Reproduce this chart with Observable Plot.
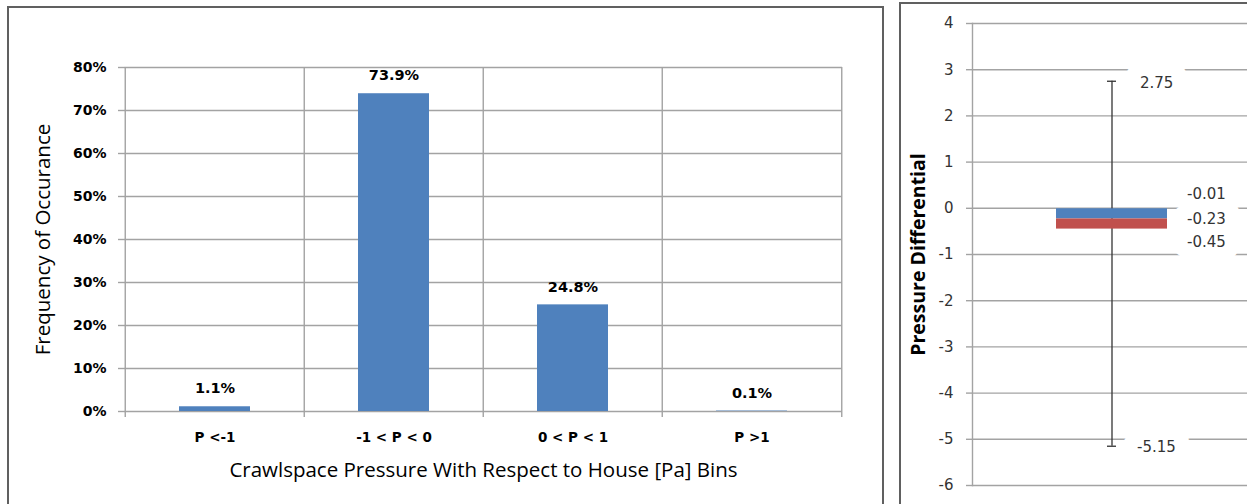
<!DOCTYPE html>
<html><head><meta charset="utf-8">
<script src="https://cdn.jsdelivr.net/npm/d3@7"></script>
<script src="https://cdn.jsdelivr.net/npm/@observablehq/plot@0.6"></script>
<style>
html,body{margin:0;padding:0;background:#fff;overflow:hidden;width:1247px;height:504px;}
#wrap{position:relative;width:1247px;height:504px;overflow:hidden;}
.panel{position:absolute;top:0;}
.panel svg{max-width:none !important;}
.border{position:absolute;border:2px solid #606060;box-sizing:border-box;pointer-events:none;}
</style></head><body>
<div id="wrap">
  <div id="left" class="panel" style="left:0px;width:883px"></div>
  <div id="right" class="panel" style="left:884px;width:420px"></div>
  <div class="border" style="left:7px;top:6px;width:877px;height:530px"></div>
  <div class="border" style="left:899px;top:2px;width:420px;height:530px"></div>
</div>
<script>
// ---- data: left chart ----
const bins = ["P <-1", "-1 < P < 0", "0 < P < 1", "P >1"];
const frequency = [0.011, 0.739, 0.248, 0.001];
const frequencyLabels = ["1.1%", "73.9%", "24.8%", "0.1%"];
const yTicksLeft = [0, 0.1, 0.2, 0.3, 0.4, 0.5, 0.6, 0.7, 0.8];
const xTitle = "Crawlspace Pressure With Respect to House [Pa] Bins";
const yTitleLeft = "Frequency of Occurance";

// ---- data: right chart ----
const boxCategory = ["Pressure"];
const whiskerMax = 2.75;
const boxUpper = -0.01;
const boxMedian = -0.23;
const boxLower = -0.45;
const whiskerMin = -5.15;
const pressureTicks = [4, 3, 2, 1, 0, -1, -2, -3, -4, -5, -6];
const yTitleRight = "Pressure Differential";

const BLUE = "#4f81bd", RED = "#c0504d", GRID = "#a3a3a3", INK = "#000";

// ---------- left chart ----------
const LW = 883, LH = 504, LML = 124, LMR = 41, LMT = 67, LMB = 93;
const bw = (LW - LML - LMR) / bins.length;
const rows = bins.map((b, i) => ({bin: b, freq: frequency[i], label: frequencyLabels[i]}));

const left = Plot.plot({
  width: LW, height: LH,
  marginLeft: LML, marginRight: LMR, marginTop: LMT, marginBottom: LMB,
  style: {fontFamily: "DejaVu Sans", background: "transparent", overflow: "visible", color: INK},
  x: {domain: bins, padding: 0, axis: null},
  y: {domain: [0, 0.8], axis: null},
  marks: [
    Plot.gridY(yTicksLeft, {stroke: GRID, strokeOpacity: 1, strokeWidth: 1.4}),
    Plot.axisY(yTicksLeft, {tickSize: 6, tickPadding: 12, stroke: GRID, strokeWidth: 1.4,
      tickFormat: d3.format(".0%"), fontWeight: "bold", fontSize: 14, fill: INK, label: null}),
    Plot.ruleX(bins, {x: d => d, dx: -bw / 2, insetBottom: -6, stroke: GRID, strokeWidth: 1.4}),
    Plot.ruleX(bins.slice(-1), {x: d => d, dx: bw / 2, insetBottom: -6, stroke: GRID, strokeWidth: 1.4}),
    Plot.barY(rows, {x: "bin", y: "freq", fill: BLUE, insetLeft: 54, insetRight: 54}),
    Plot.text(rows, {x: "bin", y: "freq", text: "label", dy: -18, fontWeight: "bold", fontSize: 14.5, fill: INK}),
    Plot.axisX(bins, {tickSize: 0, tickPadding: 21, fontWeight: "bold", fontSize: 13.5, fill: INK, label: null}),
    Plot.text([xTitle], {text: d => d, frameAnchor: "bottom", lineAnchor: "middle", textAnchor: "middle",
      dy: 59, fontSize: 20.5, fontFamily: "Open Sans", fill: INK}),
    Plot.text([yTitleLeft], {text: d => d, frameAnchor: "left", textAnchor: "middle", lineAnchor: "middle",
      dx: -81, rotate: -90, fontSize: 20.5, fontFamily: "Open Sans", fill: INK})
  ]
});
document.getElementById("left").append(left);

// ---------- right chart ----------
const RW = 420, RH = 504, RML = 88, RMR = 53, RMT = 23, RMB = 19;
const cat = boxCategory[0];
const labelStyle = {fontSize: 15, textAnchor: "start", fontFamily: "DejaVu Sans"};
const labelSpecs = [
  [whiskerMax, 28, 2],
  [whiskerMin, 25, 1],
  [boxUpper, 75, -15],
  [boxMedian, 75, 0],
  [boxLower, 75, 13.5]
];
const haloMarks = labelSpecs.map(([v, dx, dy]) =>
  Plot.text([v], {x: () => cat, y: d => d, text: d => d.toFixed(2), dx, dy, ...labelStyle,
    fill: "white", stroke: "white", strokeWidth: 30, strokeLinejoin: "round"}));
const labelMarks = labelSpecs.map(([v, dx, dy]) =>
  Plot.text([v], {x: () => cat, y: d => d, text: d => d.toFixed(2), dx, dy, ...labelStyle, fill: "#333"}));

const right = Plot.plot({
  width: RW, height: RH,
  marginLeft: RML, marginRight: RMR, marginTop: RMT, marginBottom: RMB,
  style: {fontFamily: "DejaVu Sans", background: "transparent", overflow: "visible"},
  x: {domain: boxCategory, padding: 0, axis: null},
  y: {domain: [-6, 4], axis: null},
  marks: [
    Plot.gridY(pressureTicks, {stroke: GRID, strokeOpacity: 1, strokeWidth: 1.4}),
    Plot.axisY(pressureTicks, {tickSize: 6, tickPadding: 13, stroke: GRID, strokeWidth: 1.4,
      tickFormat: d => String(d), fontSize: 15, fill: "#333", label: null}),
    Plot.frame({anchor: "left", stroke: GRID, strokeWidth: 1.4}),
    ...haloMarks,
    Plot.ruleX(boxCategory, {x: d => d, y1: () => whiskerMin, y2: () => whiskerMax, stroke: "#333", strokeWidth: 1.3}),
    Plot.tickY([whiskerMax, whiskerMin], {x: () => cat, y: d => d, insetLeft: 135, insetRight: 135, stroke: "#333", strokeWidth: 1.3}),
    Plot.barY(boxCategory, {x: d => d, y1: () => boxUpper, y2: () => boxMedian, fill: BLUE, insetLeft: 84, insetRight: 84}),
    Plot.barY(boxCategory, {x: d => d, y1: () => boxMedian, y2: () => boxLower, fill: RED, insetLeft: 84, insetRight: 84}),
    ...labelMarks,
    Plot.text([yTitleRight], {text: d => d, frameAnchor: "left", textAnchor: "middle", lineAnchor: "middle",
      dx: -54, rotate: -90, fontSize: 19.5, fontWeight: "bold", fontFamily: "Open Sans", fill: INK})
  ]
});
document.getElementById("right").append(right);
</script>
</body></html>
